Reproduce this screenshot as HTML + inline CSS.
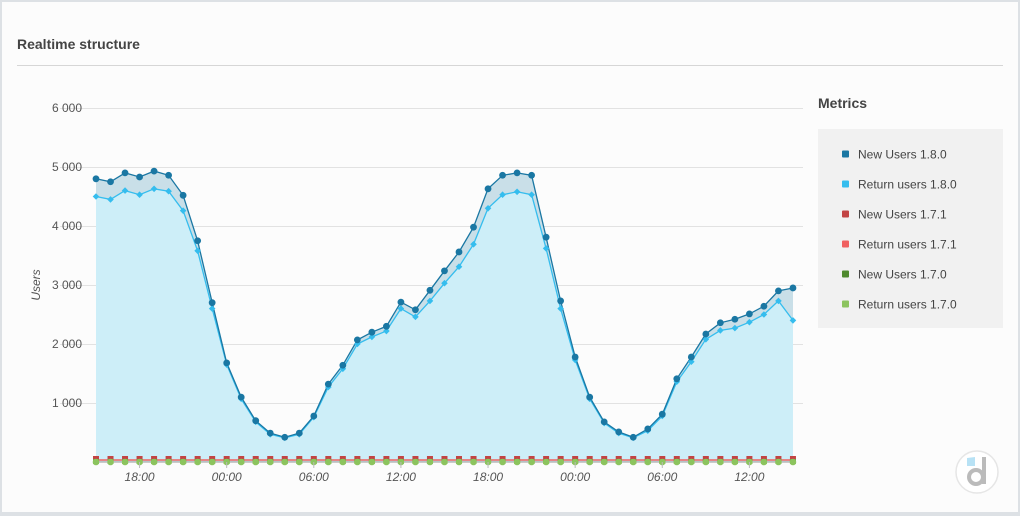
<!DOCTYPE html>
<html><head><meta charset="utf-8"><style>
html,body{margin:0;padding:0;}
body{width:1020px;height:516px;overflow:hidden;background:#dde1e5;font-family:"Liberation Sans",sans-serif;}
#card{position:absolute;left:2px;top:2px;width:1016px;height:510px;background:#fcfcfc;}
</style></head><body>
<div id="card"></div>
<svg id="s" width="1020" height="516" style="position:absolute;left:0;top:0" xmlns="http://www.w3.org/2000/svg">
<text x="17" y="49" font-size="14" font-weight="bold" fill="#444" font-family="Liberation Sans, sans-serif">Realtime structure</text>
<line x1="17" y1="65.5" x2="1003" y2="65.5" stroke="#d6d6d6"/>
<g id="grid" stroke="#e2e2e2" stroke-width="1"></g>
<g id="ylab" font-size="12" fill="#555" text-anchor="end" font-family="Liberation Sans, sans-serif"></g>
<text transform="translate(40,285) rotate(-90)" font-size="12" font-style="italic" fill="#555" text-anchor="middle" font-family="Liberation Sans, sans-serif">Users</text>
<g id="plot"></g>
<g id="xlab" font-size="12" font-style="italic" fill="#555" text-anchor="middle" font-family="Liberation Sans, sans-serif"></g>
<text x="818" y="108" font-size="14" font-weight="bold" fill="#444" font-family="Liberation Sans, sans-serif">Metrics</text>
<rect x="818" y="129" width="185" height="199" fill="#f1f1f1"/>
<g id="leg" font-size="12" fill="#444" font-family="Liberation Sans, sans-serif"></g>
<circle cx="977" cy="472" r="21" fill="#fff" stroke="#e6e6e6" stroke-width="1.5"/>
<path d="M967 458 L975 457 L975 466 L967 466 Z" fill="#b8e2f5"/>
<path d="M982 457 L986 457 L986 484 L982 484 Z" fill="#bbb"/>
<circle cx="976" cy="477" r="7" fill="none" stroke="#bbb" stroke-width="4"/>
</svg>
<script>
const NS="http://www.w3.org/2000/svg";
function el(t,a,p){const e=document.createElementNS(NS,t);for(const k in a)e.setAttribute(k,a[k]);(p||document.getElementById('plot')).appendChild(e);return e;}
const g=document.getElementById('grid'),yl=document.getElementById('ylab');
for(let i=1;i<=6;i++){const y=462-i*59;el('line',{x1:60,x2:803,y1:y+.5,y2:y+.5},g);const t=el('text',{x:82,y:y+4},yl);t.textContent=i+' 000';}
const nu=[4800,4750,4900,4830,4930,4860,4520,3750,2700,1680,1100,700,490,420,490,780,1320,1640,2070,2200,2300,2710,2580,2910,3240,3560,3980,4630,4860,4900,4860,3810,2730,1780,1100,680,510,420,560,810,1410,1780,2170,2360,2420,2510,2640,2900,2950];
const ru=[4500,4450,4600,4530,4630,4590,4260,3580,2600,1650,1070,680,470,410,470,760,1270,1580,2000,2120,2220,2600,2460,2730,3030,3310,3690,4300,4530,4580,4530,3620,2600,1730,1070,660,490,410,530,780,1360,1700,2080,2230,2270,2370,2500,2730,2400];
const X=i=>96+i*14.52,Y=v=>462-v*0.059;
const pn=nu.map((v,i)=>[X(i),Y(v)]),pr=ru.map((v,i)=>[X(i),Y(v)]);
const P=a=>a.map(p=>p[0].toFixed(1)+','+p[1].toFixed(1)).join(' ');
el('polygon',{points:P(pr)+' '+X(48)+',462 96,462',fill:'#cdeef8'});
el('polygon',{points:P(pn)+' '+P(pr.slice().reverse()),fill:'#c9dfe8'});
el('polyline',{points:P(pr),fill:'none',stroke:'#35bdee','stroke-width':1.3});
el('polyline',{points:P(pn),fill:'none',stroke:'#1a77a3','stroke-width':1.3});
pr.forEach(p=>el('path',{d:`M${p[0]} ${p[1]-3.3} L${p[0]+3.3} ${p[1]} L${p[0]} ${p[1]+3.3} L${p[0]-3.3} ${p[1]} Z`,fill:'#35bdee'}));
pn.forEach(p=>el('circle',{cx:p[0],cy:p[1],r:3.4,fill:'#1a77a3'}));
el('line',{x1:96,x2:793,y1:460,y2:460,stroke:'#f06060','stroke-width':1.5});
el('line',{x1:96,x2:793,y1:462,y2:462,stroke:'#999','stroke-width':1});
for(let i=0;i<49;i++){const x=X(i);el('rect',{x:x-3,y:456,width:6,height:6,fill:'#c24444'});el('rect',{x:x-3,y:459,width:6,height:5,fill:'#6aa64a'});el('circle',{cx:x,cy:462,r:3.3,fill:'#8cc45e'});}
const xl=document.getElementById('xlab');
['18:00','00:00','06:00','12:00','18:00','00:00','06:00','12:00'].forEach((t,i)=>{const x=X(3+6*i);el('line',{x1:x,x2:x,y1:462,y2:468,stroke:'#bbb'},xl);const tt=el('text',{x:x,y:481},xl);tt.textContent=t;});
const lg=document.getElementById('leg');
[['#1a77a3','New Users 1.8.0'],['#35bdee','Return users 1.8.0'],['#c24444','New Users 1.7.1'],['#f06060','Return users 1.7.1'],['#4f8a2e','New Users 1.7.0'],['#8cc45e','Return users 1.7.0']].forEach((d,i)=>{const y=154+i*30;el('rect',{x:842,y:y-3.5,width:7,height:7,rx:1,fill:d[0]},lg);const t=el('text',{x:858,y:y+4.5},lg);t.textContent=d[1];});
</script>
</body></html>
